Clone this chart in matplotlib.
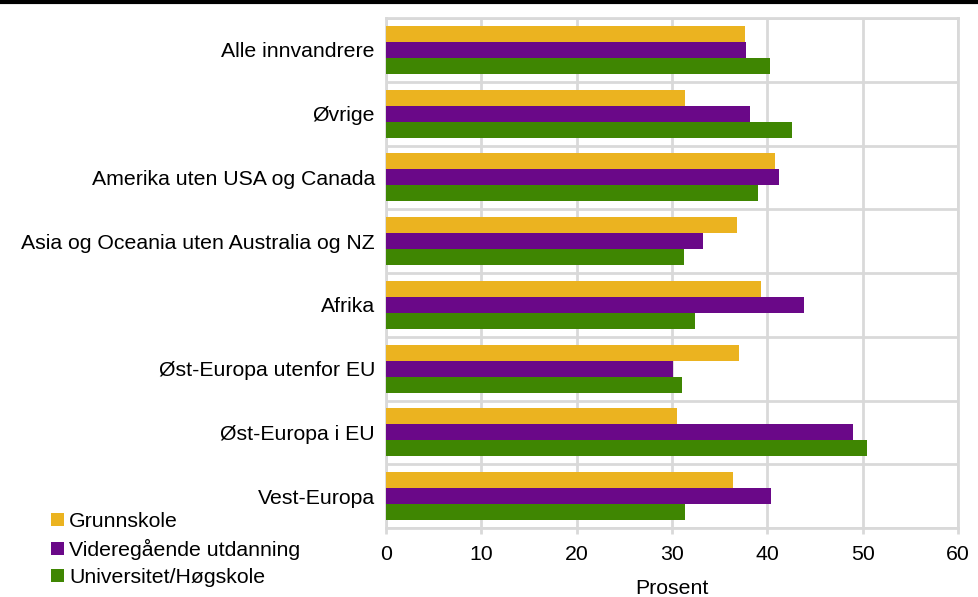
import numpy as np
import matplotlib
matplotlib.use("Agg")
import matplotlib.pyplot as plt
from matplotlib.lines import Line2D

plt.rcParams['font.family'] = ['Liberation Sans', 'DejaVu Sans']

kategorier = ["Alle innvandrere", "Øvrige", "Amerika uten USA og Canada",
              "Asia og Oceania uten Australia og NZ", "Afrika",
              "Øst-Europa utenfor EU", "Øst-Europa i EU", "Vest-Europa"]
grunnskole = [37.7, 31.4, 40.8, 36.8, 39.3, 37.0, 30.5, 36.4]
videregaende = [37.8, 38.2, 41.2, 33.3, 43.8, 30.1, 49.0, 40.4]
universitet = [40.3, 42.6, 39.0, 31.3, 32.4, 31.1, 50.5, 31.4]
serier = ["Grunnskole", "Videregående utdanning", "Universitet/Høgskole"]
farger = ["#EBB320", "#6A0888", "#3F8602"]

fs = 15.3

fig = plt.figure(figsize=(9.79, 5.97), dpi=100)
ax = fig.add_axes([386/979, 1 - 528/597, (958-386)/979, (528-18)/597])

y = np.arange(len(kategorier))
h = 0.25
for i, (vals, navn, f) in enumerate(zip([grunnskole, videregaende, universitet], serier, farger)):
    ax.barh(y + (i - 1) * h, vals, height=h, color=f, label=navn, zorder=3)

ax.set_xlim(0, 60)
ax.set_ylim(len(kategorier) - 0.5, -0.5)
ax.set_xticks(range(0, 61, 10))
ax.set_yticks(y)
ax.set_yticklabels(kategorier, fontsize=fs)
ax.set_yticks(np.arange(-0.5, len(kategorier), 1), minor=True)
ax.tick_params(axis='y', which='both', length=0, pad=8)
ax.tick_params(axis='x', length=4, color="#d9d9d9", width=2, labelsize=fs, pad=8)
ax.grid(axis='x', color="#d9d9d9", linewidth=2, zorder=0)
ax.grid(axis='y', which='minor', color="#d9d9d9", linewidth=2, zorder=0)
for s in ax.spines.values():
    s.set_color("#d9d9d9")
    s.set_linewidth(2)
ax.set_xlabel("Prosent", fontsize=fs, labelpad=11)

fig.legend(loc="upper left", bbox_to_anchor=(51/979, 1 - 512/597), frameon=False,
           fontsize=fs, handlelength=0.6, handleheight=0.6, handletextpad=0.25,
           labelspacing=0.38, borderpad=0, borderaxespad=0)

fig.add_artist(Line2D([0, 1], [1 - 1.5/597, 1 - 1.5/597], color="black", linewidth=3,
                      transform=fig.transFigure))

plt.savefig("out.png", dpi=100)
